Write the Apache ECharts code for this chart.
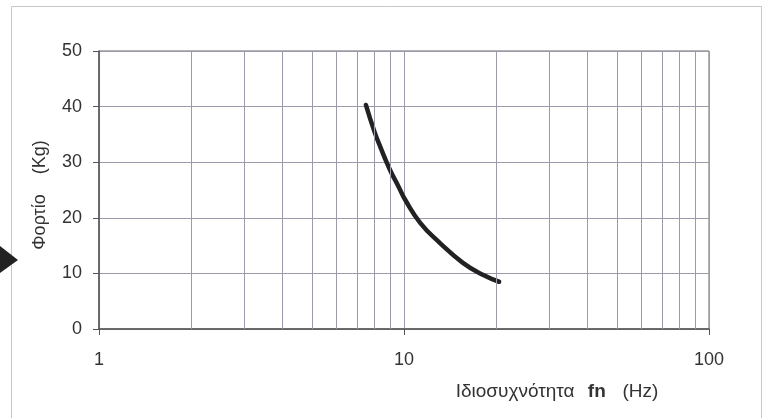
<!DOCTYPE html>
<html>
<head>
<meta charset="utf-8">
<script src="https://cdn.jsdelivr.net/npm/echarts@6/dist/echarts.min.js"></script>
<style>
  html, body { margin: 0; padding: 0; background: #fff; }
  #chart { width: 765px; height: 418px; }
</style>
</head>
<body>
<div id="chart"></div>
<script>
// curve: frequency (Hz) vs load (Kg)
var freqHz = [7.5, 8.0, 8.4, 9.0, 9.6, 10.1, 11.3, 13.1, 15.6, 18.2, 20.5];
var loadKg = [40.3, 35.5, 32.5, 28.6, 25.6, 23.2, 19.1, 15.5, 11.9, 9.7, 8.5];
// minor vertical grid lines on the log axis
var minorX = [2, 3, 4, 5, 6, 7, 8, 9, 20, 30, 40, 50, 60, 70, 80, 90];

var gridColor = "#9a9aaa";
var font = "Liberation Sans, Arial, sans-serif";

var myChart = echarts.init(document.getElementById("chart"));
myChart.setOption({
  backgroundColor: "#fff",
  animation: false,
  graphic: [
    {
      type: "rect",
      shape: { x: 11.5, y: 6.5, width: 750, height: 430 },
      style: { fill: "none", stroke: "#c8c8c8", lineWidth: 1 }
    },
    {
      type: "polygon",
      shape: { points: [[0, 246], [18, 260], [0, 273]] },
      style: { fill: "#222" }
    }
  ],
  grid: {
    left: 99,
    right: 56,
    top: 51,
    bottom: 89,
    show: true,
    borderColor: "#666",
    borderWidth: 1
  },
  xAxis: {
    type: "log",
    logBase: 10,
    min: 1,
    max: 100,
    name: "{n|Ιδιοσυχνότητα}    {b|fn}     {n|(Hz)}",
    nameLocation: "middle",
    nameGap: 53,
    nameTextStyle: {
      padding: [0, 0, 0, 306],
      rich: {
        n: { fontSize: 19, color: "#333", fontFamily: font },
        b: { fontSize: 19, color: "#333", fontFamily: font, fontWeight: "bold" }
      }
    },
    axisLine: { lineStyle: { color: "#555", width: 1.5 } },
    axisTick: { show: true, length: 6, lineStyle: { color: "#555" } },
    axisLabel: { color: "#333", fontSize: 18, fontFamily: font, margin: 22 },
    splitLine: { show: true, lineStyle: { color: gridColor, width: 1 } }
  },
  yAxis: {
    type: "value",
    min: 0,
    max: 50,
    interval: 10,
    name: "Φορτίο    (Kg)",
    nameLocation: "middle",
    nameGap: 50,
    nameTextStyle: { fontSize: 18, color: "#333", fontFamily: font, padding: [0, 10, 0, 0] },
    axisLine: { show: true, lineStyle: { color: "#555", width: 1.5 } },
    axisTick: { show: true, length: 6, lineStyle: { color: "#555" } },
    axisLabel: { color: "#333", fontSize: 18, fontFamily: font, margin: 17 },
    splitLine: { show: true, lineStyle: { color: gridColor, width: 1 } }
  },
  series: [
    {
      type: "line",
      data: freqHz.map(function (f, i) { return [f, loadKg[i]]; }),
      smooth: true,
      showSymbol: false,
      lineStyle: { color: "#222", width: 4.5, cap: "round" },
      markLine: {
        silent: true,
        symbol: "none",
        label: { show: false },
        lineStyle: { color: gridColor, width: 1, type: "solid" },
        data: minorX.map(function (v) { return { xAxis: v }; })
      },
      z: 3
    }
  ]
});
</script>
</body>
</html>
